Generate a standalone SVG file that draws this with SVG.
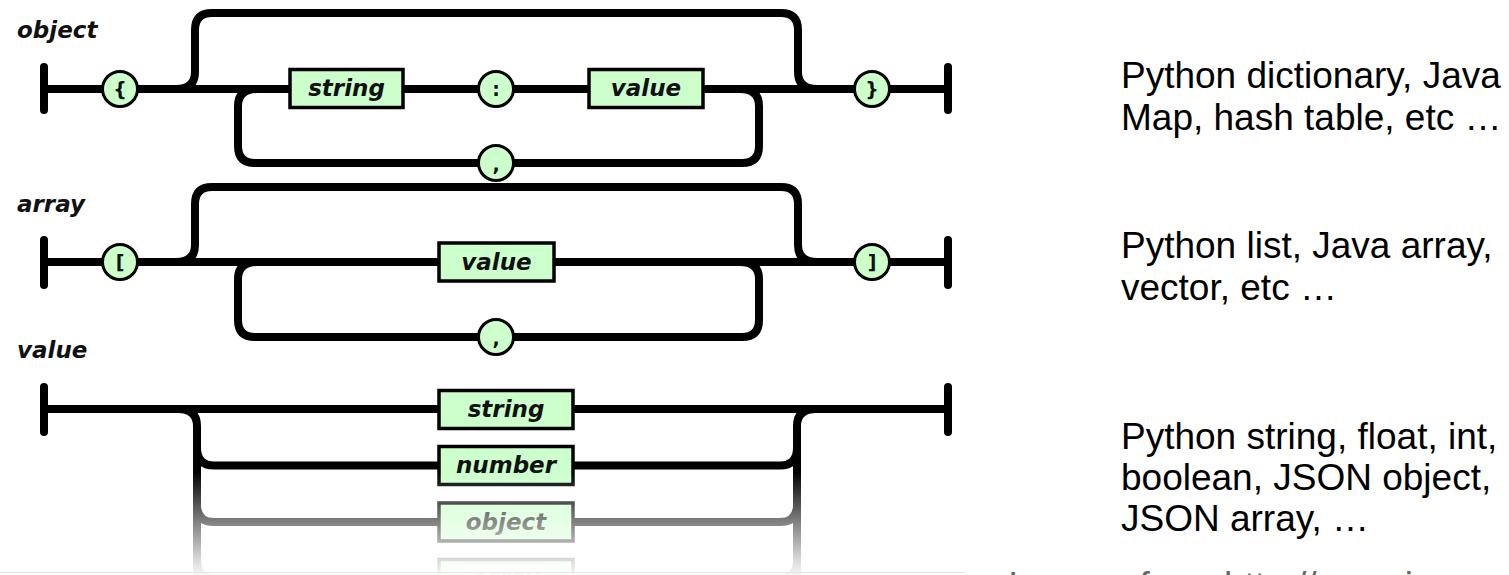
<svg xmlns="http://www.w3.org/2000/svg" width="1509" height="575" viewBox="0 0 1509 575">
  <defs>
    <style>
      .rail{fill:none;stroke:#000;stroke-width:8;stroke-linecap:butt;stroke-linejoin:round}
      .bar{stroke:#000;stroke-width:8;stroke-linecap:round}
      .box{fill:#ccffcc;stroke:#000;stroke-width:3.5}
      .tok{fill:#ccffcc;stroke:#000;stroke-width:3}
      .title{font-family:"DejaVu Sans",sans-serif;font-weight:bold;font-style:italic;font-size:23px;fill:#111}
      .nt{font-family:"DejaVu Sans",sans-serif;font-weight:bold;font-style:italic;font-size:23px;fill:#111;text-anchor:middle}
      .sym{font-family:"DejaVu Sans",sans-serif;font-weight:bold;font-size:19px;fill:#111;text-anchor:middle}
      .note{font-family:"Liberation Sans",Arial,sans-serif;font-size:37px;fill:#000}
      .src{font-family:"Liberation Sans",Arial,sans-serif;font-size:37px;fill:#666}
    </style>
    <linearGradient id="fade" x1="0" y1="472" x2="0" y2="575" gradientUnits="userSpaceOnUse">
      <stop offset="0" stop-color="#fff" stop-opacity="0"/>
      <stop offset="0.48" stop-color="#fff" stop-opacity="0.5"/>
      <stop offset="0.85" stop-color="#fff" stop-opacity="0.85"/>
      <stop offset="1" stop-color="#fff" stop-opacity="0.97"/>
    </linearGradient>
  </defs>

  <rect width="1509" height="575" fill="#fff"/>

  <!-- section titles -->
  <text class="title" x="17" y="38">object</text>
  <text class="title" x="17" y="212">array</text>
  <text class="title" x="17" y="358">value</text>

  <!-- rails -->
  <g id="connectors">
    <!-- object -->
    <line class="bar" x1="44" y1="67" x2="44" y2="110"/>
    <line class="bar" x1="948" y1="67" x2="948" y2="110"/>
    <path class="rail" d="M44 89 H948"/>
    <path class="rail" d="M176 89 Q195 89 195 72 V30 Q195 13 212 13 H781 Q798 13 798 30 V72 Q798 89 817 89"/>
    <path class="rail" d="M257 89 Q238 89 238 106 V146 Q238 163 255 163 H742 Q759 163 759 146 V106 Q759 89 740 89"/>
    <!-- array -->
    <line class="bar" x1="44" y1="240" x2="44" y2="285"/>
    <line class="bar" x1="948" y1="240" x2="948" y2="285"/>
    <path class="rail" d="M44 262 H948"/>
    <path class="rail" d="M176 262 Q195 262 195 245 V204 Q195 187 212 187 H781 Q798 187 798 204 V245 Q798 262 817 262"/>
    <path class="rail" d="M257 262 Q238 262 238 279 V320 Q238 337 255 337 H742 Q759 337 759 320 V279 Q759 262 740 262"/>
    <!-- value -->
    <line class="bar" x1="44" y1="387" x2="44" y2="432"/>
    <line class="bar" x1="948" y1="387" x2="948" y2="432"/>
    <path class="rail" d="M44 409 H948"/>
    <path class="rail" d="M178 409 Q197 409 197 426 V600"/>
    <path class="rail" d="M816 409 Q797 409 797 426 V600"/>
    <path class="rail" d="M197 448 Q197 465.5 214 465.5 H780 Q797 465.5 797 448"/>
    <path class="rail" d="M197 505 Q197 522 214 522 H780 Q797 522 797 505"/>
    <path class="rail" d="M197 561 Q197 578.5 214 578.5 H780 Q797 578.5 797 561"/>
  </g>

  <!-- object nodes -->
  <g id="obj-open"><circle class="tok" cx="120" cy="89" r="17.5"/><text class="sym" x="120" y="96">{</text></g>
  <g id="obj-key"><rect class="box" x="290" y="69.5" width="113" height="38"/><text class="nt" x="346.5" y="96">string</text></g>
  <g id="obj-colon"><circle class="tok" cx="496" cy="89" r="17.5"/><text class="sym" x="496" y="96">:</text></g>
  <g id="obj-value"><rect class="box" x="589" y="69.5" width="114" height="38"/><text class="nt" x="646" y="96">value</text></g>
  <g id="obj-comma"><circle class="tok" cx="496" cy="163" r="17.5"/><text class="sym" x="496" y="171">,</text></g>
  <g id="obj-close"><circle class="tok" cx="872" cy="89" r="17.5"/><text class="sym" x="872" y="96">}</text></g>

  <!-- array nodes -->
  <g id="arr-open"><circle class="tok" cx="120" cy="262" r="17.5"/><text class="sym" x="120" y="269">[</text></g>
  <g id="arr-value"><rect class="box" x="439" y="243" width="115" height="38"/><text class="nt" x="496.5" y="269.5">value</text></g>
  <g id="arr-comma"><circle class="tok" cx="496" cy="337" r="17.5"/><text class="sym" x="496" y="345">,</text></g>
  <g id="arr-close"><circle class="tok" cx="872" cy="262" r="17.5"/><text class="sym" x="872" y="269">]</text></g>

  <!-- value nodes -->
  <g id="val-string"><rect class="box" x="439" y="390.5" width="134" height="38"/><text class="nt" x="506" y="417">string</text></g>
  <g id="val-number"><rect class="box" x="439" y="446.5" width="134" height="38"/><text class="nt" x="506" y="473">number</text></g>
  <g id="val-object"><rect class="box" x="439" y="503" width="134" height="38"/><text class="nt" x="506" y="529.5">object</text></g>
  <g id="val-array"><rect class="box" x="439" y="559.5" width="134" height="38"/><text class="nt" x="506" y="586">array</text></g>

  <!-- reflection fade over the lower alternatives -->
  <rect x="0" y="472" width="965" height="103" fill="url(#fade)"/>
  <line x1="0" y1="572.5" x2="965" y2="572.5" stroke="#e6e6e6" stroke-width="1"/>

  <!-- notes -->
  <g id="notes">
    <text class="note" x="1121" y="88">Python dictionary, Java</text>
    <text class="note" x="1121" y="130">Map, hash table, etc …</text>
    <text class="note" x="1121" y="258">Python list, Java array,</text>
    <text class="note" x="1121" y="300">vector, etc …</text>
    <text class="note" x="1121" y="449">Python string, float, int,</text>
    <text class="note" x="1121" y="490">boolean, JSON object,</text>
    <text class="note" x="1121" y="531">JSON array, …</text>
    <text class="src" x="1008" y="598">Images from http://www.json.org</text>
  </g>
</svg>
